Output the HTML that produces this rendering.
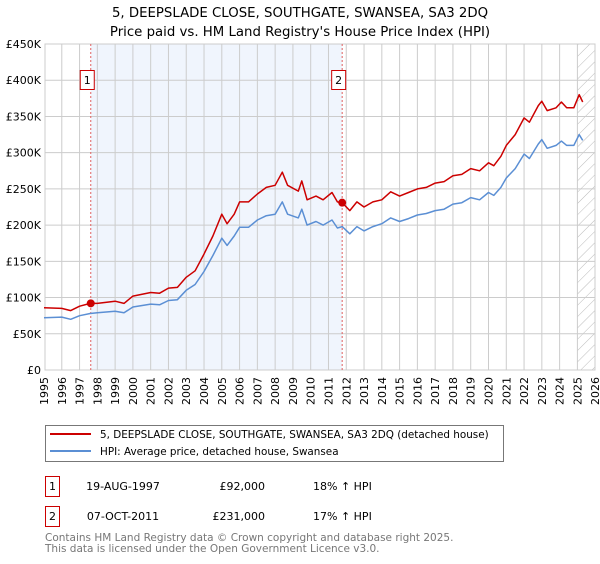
<!DOCTYPE html>
<html><head><meta charset="utf-8"><style>
body{margin:0;width:600px;height:560px;background:#fff;font-family:"DejaVu Sans","Liberation Sans",sans-serif;overflow:hidden}
svg text{font-family:"DejaVu Sans","Liberation Sans",sans-serif}
</style></head><body>
<svg id="chart" width="600" height="560" xmlns="http://www.w3.org/2000/svg">
<defs><pattern id="hatch" patternUnits="userSpaceOnUse" width="8" height="8" patternTransform="rotate(45)"><line x1="0" y1="0" x2="0" y2="8" stroke="#bbb" stroke-width="1"/></pattern></defs>
<text x="300" y="17" text-anchor="middle" font-size="13.3">5, DEEPSLADE CLOSE, SOUTHGATE, SWANSEA, SA3 2DQ</text>
<text x="300" y="36" text-anchor="middle" font-size="13.3">Price paid vs. HM Land Registry's House Price Index (HPI)</text>
<g id="plot"></g>
<g>
<rect x="45.5" y="425.5" width="458" height="36" fill="#fff" stroke="#777"/>
<line x1="50" y1="434" x2="91" y2="434" stroke="#cc0000" stroke-width="2"/>
<text x="100" y="438" font-size="10.4">5, DEEPSLADE CLOSE, SOUTHGATE, SWANSEA, SA3 2DQ (detached house)</text>
<line x1="50" y1="451" x2="91" y2="451" stroke="#5b8fd4" stroke-width="2"/>
<text x="100" y="455" font-size="10.4">HPI: Average price, detached house, Swansea</text>
</g>
<g font-size="11">
<rect x="45.5" y="476.5" width="14" height="20" fill="none" stroke="#cc0000"/>
<text x="52.5" y="490" text-anchor="middle">1</text>
<text x="123" y="490" text-anchor="middle">19-AUG-1997</text>
<text x="265" y="490" text-anchor="end">£92,000</text>
<text x="313" y="490">18% ↑ HPI</text>
<rect x="45.5" y="506.5" width="14" height="20" fill="none" stroke="#cc0000"/>
<text x="52.5" y="520" text-anchor="middle">2</text>
<text x="123" y="520" text-anchor="middle">07-OCT-2011</text>
<text x="265" y="520" text-anchor="end">£231,000</text>
<text x="313" y="520">17% ↑ HPI</text>
</g>
<text x="45" y="541" font-size="10.5" fill="#777">Contains HM Land Registry data © Crown copyright and database right 2025.</text>
<text x="45" y="552" font-size="10.5" fill="#777">This data is licensed under the Open Government Licence v3.0.</text>
</svg>
<script>
const yearTicks=[1995,1996,1997,1998,1999,2000,2001,2002,2003,2004,2005,2006,2007,2008,2009,2010,2011,2012,2013,2014,2015,2016,2017,2018,2019,2020,2021,2022,2023,2024,2025,2026];
const priceTicks=[0,50,100,150,200,250,300,350,400,450];
const priceLabels=["£0","£50K","£100K","£150K","£200K","£250K","£300K","£350K","£400K","£450K"];
const dates=[1995,1996,1996.5,1997,1997.6,1998,1999,1999.5,2000,2001,2001.5,2002,2002.5,2003,2003.5,2004,2004.5,2005,2005.3,2005.7,2006,2006.5,2007,2007.5,2008,2008.4,2008.7,2009.3,2009.5,2009.8,2010.3,2010.7,2011.2,2011.5,2011.77,2012.2,2012.6,2013,2013.5,2014,2014.5,2015,2015.5,2016,2016.5,2017,2017.5,2018,2018.5,2019,2019.5,2020,2020.3,2020.7,2021,2021.5,2022,2022.3,2022.8,2023,2023.3,2023.8,2024.1,2024.4,2024.8,2025.1,2025.3];
const propertyValues=[86,85,82,88,92,92,95,92,102,107,106,113,114,128,137,160,185,215,202,215,232,232,243,252,255,273,255,247,261,235,240,235,245,232,231,220,232,225,232,235,246,240,245,250,252,258,260,268,270,278,275,286,282,295,310,325,348,342,365,371,358,362,370,362,362,380,370];
const hpiValues=[72,73,70,75,78,79,81,79,87,91,90,96,97,110,118,136,158,182,172,185,197,197,207,213,215,232,215,210,222,200,205,200,207,196,198,188,198,192,198,202,210,205,209,214,216,220,222,229,231,238,235,245,241,252,265,278,298,292,312,318,306,310,316,310,310,325,317];
const saleDates=[1997.63,2011.77];
const salePrices=[92,231];
const saleLabels=["1","2"];

const X0=45,X1=595,Y0=370,Y1=44;
const xs=y=>44+(y-1995)*17.78;
const ys=v=>Y0-(v/450)*(Y0-Y1);
const NS="http://www.w3.org/2000/svg";
const g=document.getElementById('plot');
function mk(t,a){const e=document.createElementNS(NS,t);for(const k in a)e.setAttribute(k,a[k]);g.appendChild(e);return e;}

const shade=mk('rect',{x:xs(saleDates[0]),y:Y1,width:xs(saleDates[1])-xs(saleDates[0]),height:Y0-Y1,fill:'#f0f5fd'});


const hat=mk('rect',{x:xs(2025),y:Y1,width:X1-xs(2025),height:Y0-Y1,fill:'url(#hatch)'});



yearTicks.forEach(yr=>{
  const x=xs(yr);
  if(x>X0&&x<X1){const l=mk('line',{x1:x,y1:Y1,x2:x,y2:Y0,stroke:'#cccccc','stroke-width':1});
  
  }
  const t=mk('text',{x:0,y:0,'font-size':11,'text-anchor':'end',transform:`translate(${x+4},${Y0+7}) rotate(-90)`});
  t.textContent=yr;
  
  
});
priceTicks.forEach((p,i)=>{
  const y=ys(p);
  const l=mk('line',{x1:X0,y1:y,x2:X1,y2:y,stroke:'#cccccc','stroke-width':1});
  
  
  const t=mk('text',{x:X0-4,y:y+4,'font-size':11,'text-anchor':'end'});
  t.textContent=priceLabels[i];
  
  
});
const frame=mk('rect',{x:X0,y:Y1,width:X1-X0,height:Y0-Y1,fill:'none',stroke:'#cccccc'});



saleDates.forEach((d,i)=>{
  const x=xs(d);
  const l=mk('line',{x1:x,y1:Y1,x2:x,y2:Y0,stroke:'#e06060','stroke-width':1,'stroke-dasharray':'2,2'});
  
  
  const b=mk('rect',{x:x-10.5,y:70.5,width:14,height:19,fill:'#fff',stroke:'#cc0000'});
  
  
  const t=mk('text',{x:x-3.5,y:84,'font-size':11,'text-anchor':'middle'});
  t.textContent=saleLabels[i];
  
  
});

function line(vals,color,name){
  const d=vals.map((v,i)=>(i?'L':'M')+xs(dates[i]).toFixed(1)+','+ys(v).toFixed(1)).join('');
  const p=mk('path',{d:d,fill:'none',stroke:color,'stroke-width':1.5,'stroke-linejoin':'round'});
  
  
}
line(hpiValues,'#5b8fd4','hpi-line');
line(propertyValues,'#cc0000','property-price-line');
saleDates.forEach((d,i)=>{
  const c=mk('circle',{cx:xs(d),cy:ys(salePrices[i]),r:4,fill:'#cc0000'});
  
  
});
</script>
</body></html>
